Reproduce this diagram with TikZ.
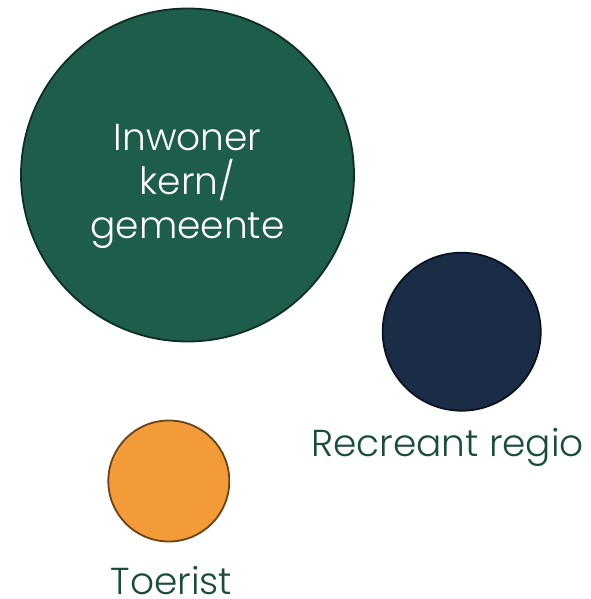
\documentclass[tikz,border=0pt]{standalone}
\usepackage{fontspec}
\setmainfont{Poppins}[UprightFont=* Light]
\definecolor{bigfill}{HTML}{1E5C4B}
\definecolor{bigline}{HTML}{0E2E24}
\definecolor{navyfill}{HTML}{1B2D46}
\definecolor{navyline}{HTML}{0A1220}
\definecolor{orfill}{HTML}{F29B38}
\definecolor{orline}{HTML}{6A4416}
\definecolor{labelgreen}{HTML}{1B4D3B}
\begin{document}
\begin{tikzpicture}[x=1pt,y=-1pt,
  blob/.style={circle,inner sep=0pt,line width=1.8pt},
  lbl/.style={inner sep=0pt,text=labelgreen,font=\fontsize{37.5}{44}\selectfont,anchor=base}]
\useasboundingbox (0,0) rectangle (590,599);
\node[blob,draw=bigline,fill=bigfill,minimum size=333pt] (inw) at (187.5,175) {};
\node[blob,draw=navyline,fill=navyfill,minimum size=158pt] (rec) at (461.7,331.7) {};
\node[blob,draw=orline,fill=orfill,minimum size=121pt] (toe) at (168.8,481) {};
\node[inner sep=0pt,text=white,align=center,font=\fontsize{37.5}{44}\selectfont,anchor=base] (inwt) at (187.5,238) {Inwoner\\kern/\\gemeente};
\node[lbl] (rect) at (447.5,456.5) {Recreant regio};
\node[lbl] (toet) at (171.5,594) {Toerist};
\end{tikzpicture}
\end{document}
